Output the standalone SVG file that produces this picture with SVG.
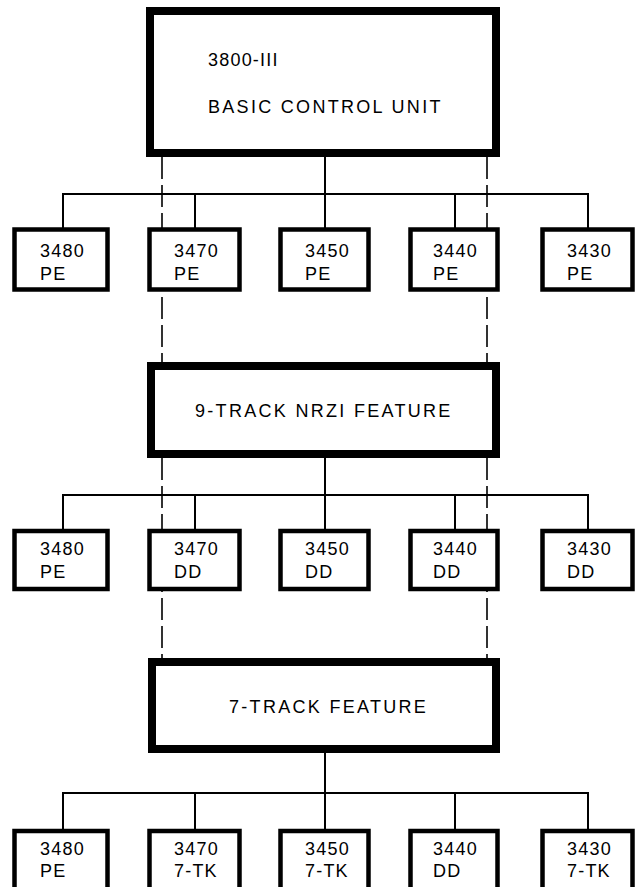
<svg xmlns="http://www.w3.org/2000/svg" width="639" height="887" viewBox="0 0 639 887">
<style>
  .big { fill: #fff; stroke: #000; stroke-width: 8; }
  .leaf { fill: #fff; stroke: #000; stroke-width: 4.5; }
  .solid { stroke: #000; stroke-width: 2; fill: none; }
  .dash { stroke: #000; stroke-width: 1.6; fill: none; stroke-dasharray: 22 6; }
  text { font-family: "Liberation Sans", Arial, sans-serif; font-size: 18px; fill: #000; }
  .t { letter-spacing: 1.2px; }
  .h { letter-spacing: 2.3px; }
</style>
<rect width="639" height="887" fill="#fff"/>
<g id="connectors">
  <!-- dashed feature links -->
  <line class="dash" x1="162" y1="157" x2="162" y2="362"/>
  <line class="dash" x1="487" y1="157" x2="487" y2="362"/>
  <line class="dash" x1="162" y1="458" x2="162" y2="658"/>
  <line class="dash" x1="487" y1="458" x2="487" y2="658"/>
  <!-- row 1 -->
  <line class="solid" x1="325" y1="157" x2="325" y2="194"/>
  <polyline class="solid" points="63,228 63,194 588,194 588,228"/>
  <line class="solid" x1="195" y1="194" x2="195" y2="228"/>
  <line class="solid" x1="325" y1="194" x2="325" y2="228"/>
  <line class="solid" x1="455" y1="194" x2="455" y2="228"/>
  <!-- row 2 -->
  <line class="solid" x1="325" y1="458" x2="325" y2="495"/>
  <polyline class="solid" points="63,529 63,495 588,495 588,529"/>
  <line class="solid" x1="195" y1="495" x2="195" y2="529"/>
  <line class="solid" x1="325" y1="495" x2="325" y2="529"/>
  <line class="solid" x1="455" y1="495" x2="455" y2="529"/>
  <!-- row 3 -->
  <line class="solid" x1="325" y1="753" x2="325" y2="793"/>
  <polyline class="solid" points="63,829 63,793 588,793 588,829"/>
  <line class="solid" x1="195" y1="793" x2="195" y2="829"/>
  <line class="solid" x1="325" y1="793" x2="325" y2="829"/>
  <line class="solid" x1="455" y1="793" x2="455" y2="829"/>
</g>

<g id="basic-control-unit">
  <rect class="big" x="150" y="11" width="346" height="142"/>
  <text class="t" x="208" y="66">3800-III</text>
  <text class="h" x="208" y="113">BASIC CONTROL UNIT</text>
</g>

<g id="r1-3480"><rect class="leaf" x="14.5" y="229.5" width="93" height="60"/><text class="t" x="40" y="257">3480</text><text class="t" x="40" y="280">PE</text></g>
<g id="r1-3470"><rect class="leaf" x="149.5" y="229.5" width="90" height="60"/><text class="t" x="174" y="257">3470</text><text class="t" x="174" y="280">PE</text></g>
<g id="r1-3450"><rect class="leaf" x="280.5" y="229.5" width="88" height="60"/><text class="t" x="305" y="257">3450</text><text class="t" x="305" y="280">PE</text></g>
<g id="r1-3440"><rect class="leaf" x="410.5" y="229.5" width="87" height="60"/><text class="t" x="433" y="257">3440</text><text class="t" x="433" y="280">PE</text></g>
<g id="r1-3430"><rect class="leaf" x="542.5" y="229.5" width="90" height="60"/><text class="t" x="567" y="257">3430</text><text class="t" x="567" y="280">PE</text></g>

<g id="nrzi-feature">
  <rect class="big" x="151" y="366" width="345" height="88"/>
  <text class="h" x="195" y="417">9-TRACK NRZI FEATURE</text>
</g>

<g id="r2-3480"><rect class="leaf" x="14.5" y="531" width="93" height="58"/><text class="t" x="40" y="555">3480</text><text class="t" x="40" y="578">PE</text></g>
<g id="r2-3470"><rect class="leaf" x="149.5" y="531" width="90" height="58"/><text class="t" x="174" y="555">3470</text><text class="t" x="174" y="578">DD</text></g>
<g id="r2-3450"><rect class="leaf" x="280.5" y="531" width="88" height="58"/><text class="t" x="305" y="555">3450</text><text class="t" x="305" y="578">DD</text></g>
<g id="r2-3440"><rect class="leaf" x="410.5" y="531" width="87" height="58"/><text class="t" x="433" y="555">3440</text><text class="t" x="433" y="578">DD</text></g>
<g id="r2-3430"><rect class="leaf" x="542.5" y="531" width="90" height="58"/><text class="t" x="567" y="555">3430</text><text class="t" x="567" y="578">DD</text></g>

<g id="seven-track-feature">
  <rect class="big" x="152" y="662" width="344" height="87"/>
  <text class="h" x="229" y="713">7-TRACK FEATURE</text>
</g>

<g id="r3-3480"><rect class="leaf" x="14.5" y="831" width="93" height="70"/><text class="t" x="40" y="855">3480</text><text class="t" x="40" y="877">PE</text></g>
<g id="r3-3470"><rect class="leaf" x="149.5" y="831" width="90" height="70"/><text class="t" x="174" y="855">3470</text><text class="t" x="174" y="877">7-TK</text></g>
<g id="r3-3450"><rect class="leaf" x="280.5" y="831" width="88" height="70"/><text class="t" x="305" y="855">3450</text><text class="t" x="305" y="877">7-TK</text></g>
<g id="r3-3440"><rect class="leaf" x="410.5" y="831" width="87" height="70"/><text class="t" x="433" y="855">3440</text><text class="t" x="433" y="877">DD</text></g>
<g id="r3-3430"><rect class="leaf" x="542.5" y="831" width="90" height="70"/><text class="t" x="567" y="855">3430</text><text class="t" x="567" y="877">7-TK</text></g>
</svg>
